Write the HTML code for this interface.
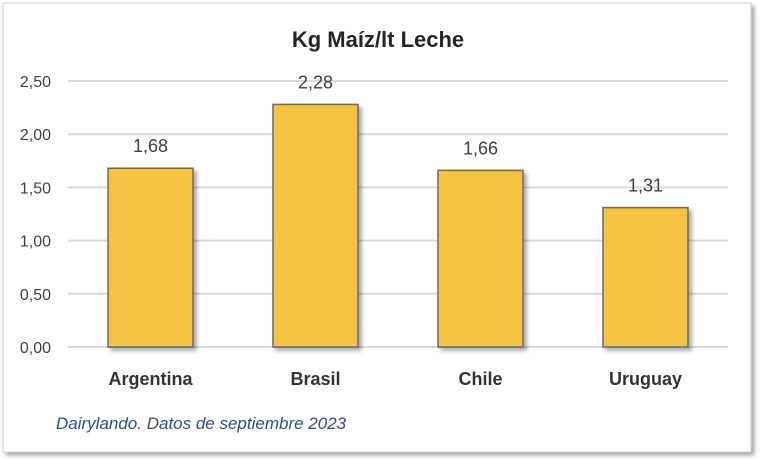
<!DOCTYPE html>
<html><head><meta charset="utf-8"><style>
body{margin:0;background:#fff;width:764px;height:463px;overflow:hidden;font-family:"Liberation Sans",sans-serif}
</style></head><body>
<svg width="764" height="463">
<defs><filter id="sh" x="-10%" y="-10%" width="130%" height="130%"><feDropShadow dx="3" dy="3" stdDeviation="2" flood-color="#000" flood-opacity="0.35"/></filter></defs>
<rect x="3" y="3" width="748" height="449" fill="#fff" stroke="#d0d0d0" filter="url(#sh)"/>
<text x="378" y="47" text-anchor="middle" font-size="22" font-weight="bold" fill="#262626">Kg Maíz/lt Leche</text>
<g id="grid"></g><g id="bars"></g><g id="labels"></g>
<text x="56" y="429" font-size="17" font-style="italic" fill="#2F4B8F">Dairylando. Datos de septiembre 2023</text>
</svg>
<script>
const categories=["Argentina","Brasil","Chile","Uruguay"];
const values=[1.68,2.28,1.66,1.31];
const ticks=[0,0.5,1,1.5,2,2.5];
const tickLabels=["0,00","0,50","1,00","1,50","2,00","2,50"];
const valueLabels=["1,68","2,28","1,66","1,31"];
const NS="http://www.w3.org/2000/svg";
const x0=68,x1=728,y0=347,yTop=81,vmax=2.5;
const y=v=>y0-(v/vmax)*(y0-yTop);
const bw=(x1-x0)/categories.length;
const xc=i=>x0+bw*(i+0.5);
function mk(t,a,p){const e=document.createElementNS(NS,t);for(const k in a)e.setAttribute(k,a[k]);p.appendChild(e);return e;}
const g=document.getElementById('grid'),b=document.getElementById('bars'),l=document.getElementById('labels');
ticks.forEach((t,i)=>{
 const ln=mk('line',{x1:x0,x2:x1,y1:y(t),y2:y(t),stroke:'#d9d9d9','stroke-width':2},g);
 
 
 const tx=mk('text',{x:51,y:y(t)+6,'text-anchor':'end','font-size':16,fill:'#404040'},g);
 tx.textContent=tickLabels[i];
 
 
});
categories.forEach((c,i)=>{
 const w=85;
 const r=mk('rect',{x:xc(i)-w/2,y:y(values[i]),width:w,height:y0-y(values[i]),fill:'#F5C342',stroke:'#6b6b6b','stroke-width':1.5,filter:'url(#sh)'},b);
 
 
 const v=mk('text',{x:xc(i),y:y(values[i])-16,'text-anchor':'middle','font-size':18,fill:'#404040'},l);
 v.textContent=valueLabels[i];
 
 
 const ct=mk('text',{x:xc(i),y:385,'text-anchor':'middle','font-size':18,'font-weight':'bold',fill:'#333'},l);
 ct.textContent=c;
 
 
});
</script>
</body></html>
